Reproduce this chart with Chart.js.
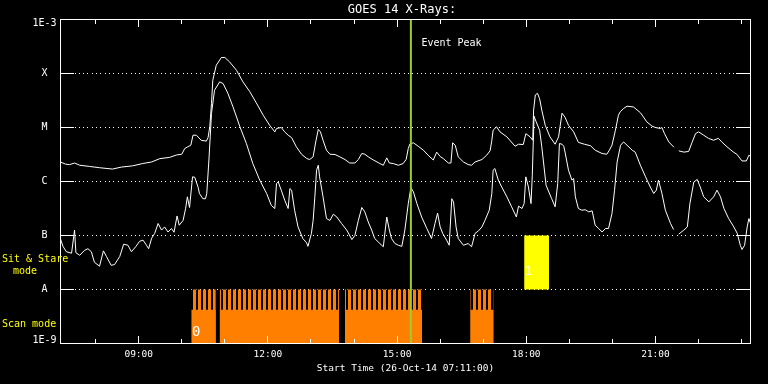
<!DOCTYPE html>
<html>
<head>
<meta charset="utf-8">
<script src="https://cdn.jsdelivr.net/npm/chart.js@4/dist/chart.umd.min.js"></script>
<style>
  html, body { margin: 0; padding: 0; background: #000; }
  canvas { display: block; }
</style>
</head>
<body>
<canvas id="c" width="768" height="384"></canvas>
<script>
// ---------- data (time in decimal hours of 26-Oct-2014, flux in W/m^2) ----------
const chartTitle = 'GOES 14 X-Rays:';
const xTitle = 'Start Time (26-Oct-14 07:11:00)';
const xMin = 7.1833, xMax = 23.207;
const hourTicks  = [8, 9, 10, 11, 12, 13, 14, 15, 16, 17, 18, 19, 20, 21, 22, 23];
const hourLabels = ['', '09:00', '', '', '12:00', '', '', '15:00', '', '', '18:00', '', '', '21:00', '', ''];
const yTickValues = [1e-9, 1e-8, 1e-7, 1e-6, 1e-5, 1e-4, 1e-3];
const yTickLabels = ['1E-9', 'A', 'B', 'C', 'M', 'X', '1E-3'];

// 1-8 Angstrom (long) channel
const longTime = [7.18,7.30,7.39,7.51,7.63,7.86,8.09,8.39,8.60,8.86,
  9.09,9.30,9.49,9.72,9.88,10.00,10.07,10.14,10.21,10.26,
  10.34,10.45,10.57,10.61,10.65,10.69,10.72,10.80,10.92,11.00,
  11.11,11.27,11.42,11.58,11.73,11.89,12.04,12.16,12.20,12.31,
  12.39,12.47,12.55,12.66,12.78,12.90,12.97,13.05,13.11,13.17,
  13.22,13.28,13.36,13.44,13.56,13.67,13.79,13.90,14.02,14.10,
  14.18,14.25,14.33,14.45,14.60,14.68,14.76,14.82,14.91,15.03,
  15.14,15.21,15.26,15.30,15.38,15.49,15.61,15.72,15.84,15.92,
  16.00,16.07,16.19,16.25,16.29,16.35,16.42,16.54,16.65,16.73,
  16.81,16.97,17.08,17.16,17.20,17.23,17.31,17.39,17.55,17.74,
  17.82,17.93,17.99,18.09,18.15,18.17,18.21,18.26,18.31,18.36,
  18.44,18.55,18.67,18.75,18.83,18.90,18.98,19.10,19.21,19.35,
  19.49,19.60,19.76,19.87,19.93,19.99,20.07,20.14,20.18,20.26,
  20.34,20.49,20.65,20.80,20.92,21.00,21.11,21.15,21.21,21.31,
  21.43,21.48,21.54,21.66,21.77,21.85,21.93,22.00,22.12,22.23,
  22.35,22.46,22.54,22.66,22.81,22.89,23.01,23.11,23.17,23.21];
const longFlux = [2.3e-6,2.1e-6,2.05e-6,2.2e-6,2.0e-6,1.9e-6,1.8e-6,1.7e-6,1.85e-6,1.95e-6,
  2.15e-6,2.3e-6,2.65e-6,2.8e-6,3.1e-6,3.2e-6,4.1e-6,4.4e-6,4.7e-6,7.2e-6,
  7.2e-6,5.8e-6,5.6e-6,6.5e-6,1.03e-5,2.8e-5,7.5e-5,1.42e-4,1.98e-4,1.98e-4,
  1.64e-4,1.15e-4,7.0e-5,4.6e-5,2.86e-5,1.69e-5,1.1e-5,8.3e-6,9.6e-6,1.0e-5,
  8.3e-6,7.2e-6,6.5e-6,4.4e-6,3.2e-6,2.67e-6,2.55e-6,2.86e-6,5.4e-6,9.2e-6,
  8.3e-6,5.8e-6,3.8e-6,3.2e-6,3.16e-6,2.86e-6,2.55e-6,2.2e-6,2.2e-6,2.55e-6,
  3.3e-6,3.2e-6,2.86e-6,2.5e-6,2.15e-6,2.0e-6,2.74e-6,2.2e-6,2.15e-6,2.0e-6,
  2.15e-6,2.55e-6,4.1e-6,5.0e-6,5.2e-6,4.5e-6,3.8e-6,3.07e-6,2.5e-6,3.5e-6,
  2.9e-6,2.67e-6,2.2e-6,2.2e-6,5.2e-6,4.7e-6,2.86e-6,2.3e-6,2.06e-6,2.0e-6,
  2.3e-6,2.55e-6,3.07e-6,3.7e-6,5.8e-6,8.9e-6,1.03e-5,8.3e-6,6.7e-6,4.5e-6,
  4.9e-6,4.84e-6,7.7e-6,6.7e-6,5.8e-6,2.1e-5,4.0e-5,4.3e-5,3.4e-5,2.1e-5,
  1.1e-5,6.7e-6,4.9e-6,6.7e-6,1.84e-5,1.55e-5,1.1e-5,8.3e-6,5.3e-6,4.9e-6,
  4.6e-6,3.8e-6,3.3e-6,3.2e-6,3.8e-6,4.7e-6,8.9e-6,1.69e-5,1.95e-5,2.25e-5,
  2.48e-5,2.4e-5,1.88e-5,1.27e-5,1.06e-5,1.0e-5,9.6e-6,1.0e-5,7.7e-6,5.4e-6,
  4.3e-6,null,3.7e-6,3.5e-6,3.6e-6,5.3e-6,7.7e-6,8.3e-6,7.2e-6,6.3e-6,
  5.8e-6,6.3e-6,5.4e-6,4.4e-6,3.5e-6,3.2e-6,2.4e-6,2.4e-6,3.07e-6,2.9e-6];

// 0.5-4 Angstrom (short) channel
const shortTime = [7.18,7.24,7.32,7.44,7.51,7.54,7.63,7.74,7.82,7.90,
  7.97,8.09,8.18,8.25,8.36,8.44,8.56,8.65,8.75,8.83,
  8.93,9.02,9.10,9.18,9.23,9.30,9.37,9.45,9.53,9.60,
  9.68,9.76,9.82,9.89,9.94,10.03,10.09,10.13,10.18,10.25,
  10.30,10.38,10.41,10.49,10.55,10.58,10.63,10.69,10.76,10.88,
  10.96,11.07,11.19,11.35,11.50,11.65,11.81,11.97,12.08,12.16,
  12.20,12.24,12.31,12.39,12.47,12.51,12.55,12.62,12.70,12.81,
  12.90,12.93,13.01,13.05,13.09,13.13,13.17,13.20,13.28,13.36,
  13.44,13.52,13.60,13.71,13.83,13.95,14.02,14.10,14.18,14.25,
  14.33,14.41,14.48,14.60,14.68,14.76,14.82,14.87,14.95,15.03,
  15.11,15.18,15.26,15.32,15.38,15.46,15.57,15.69,15.80,15.88,
  15.94,16.00,16.06,16.15,16.21,16.27,16.31,16.37,16.42,16.54,
  16.65,16.73,16.81,16.89,16.97,17.04,17.14,17.20,17.23,17.27,
  17.35,17.43,17.55,17.66,17.77,17.82,17.90,17.95,17.99,18.05,
  18.11,18.14,18.18,18.23,18.31,18.36,18.46,18.59,18.67,18.73,
  18.77,18.83,18.87,18.90,18.98,19.06,19.10,19.14,19.21,19.29,
  19.37,19.45,19.53,19.56,19.60,19.68,19.76,19.84,19.91,19.99,
  20.05,20.11,20.19,20.26,20.34,20.46,20.53,20.65,20.77,20.88,
  20.96,21.02,21.07,21.15,21.23,21.35,21.42,21.48,21.54,21.66,
  21.74,21.80,21.89,21.97,22.04,22.12,22.24,22.35,22.43,22.51,
  22.59,22.70,22.82,22.90,22.97,23.01,23.07,23.13,23.17,23.21];
const shortFlux = [8.8e-8,6.3e-8,5.0e-8,4.7e-8,1.26e-7,4.8e-8,4.3e-8,5.3e-8,5.7e-8,5.0e-8,
  3.2e-8,2.7e-8,5.2e-8,4.1e-8,2.8e-8,2.9e-8,4.1e-8,6.9e-8,6.6e-8,5.0e-8,
  6.2e-8,7.8e-8,8.2e-8,6.6e-8,5.7e-8,8.9e-8,1.09e-7,1.67e-7,1.26e-7,1.44e-7,
  1.16e-7,1.35e-7,1.15e-7,2.3e-7,1.55e-7,1.9e-7,3.2e-7,5.2e-7,3.3e-7,1.22e-6,
  1.2e-6,7.8e-7,6.0e-7,4.8e-7,4.8e-7,6.0e-7,2.5e-6,1.82e-5,4.9e-5,7.0e-5,
  6.5e-5,4.3e-5,2.4e-5,1.03e-5,5.05e-6,2.15e-6,1.06e-6,6.0e-7,3.6e-7,3.16e-7,
  9.2e-7,9.8e-7,6.9e-7,4.5e-7,3.16e-7,7.4e-7,6.9e-7,2.94e-7,1.44e-7,8.8e-8,
  7.3e-8,6.3e-8,1.09e-7,1.9e-7,5.2e-7,1.62e-6,2.0e-6,1.22e-6,5.2e-7,2.06e-7,
  1.9e-7,2.48e-7,2.2e-7,1.67e-7,1.26e-7,8.4e-8,1.0e-7,1.9e-7,3.3e-7,2.74e-7,
  1.78e-7,1.26e-7,8.8e-8,7.1e-8,6.2e-8,2.2e-7,1.26e-7,8.8e-8,7.1e-8,6.6e-8,
  6.3e-8,1.26e-7,3.9e-7,7.7e-7,6.4e-7,3.9e-7,2.2e-7,1.35e-7,8.8e-8,1.67e-7,
  2.6e-7,1.44e-7,1.09e-7,8.2e-8,6.6e-8,4.8e-7,4.2e-7,1.44e-7,8.8e-8,6.6e-8,
  7.1e-8,6.2e-8,1.09e-7,1.22e-7,1.44e-7,1.9e-7,2.94e-7,6.0e-7,1.62e-6,1.74e-6,
  1.06e-6,7.9e-7,5.2e-7,3.4e-7,2.2e-7,3.5e-7,3.16e-7,3.9e-7,1.22e-6,7.9e-7,
  3.9e-7,1.31e-6,1.62e-5,1.27e-5,8.9e-6,4.4e-6,8.5e-7,4.8e-7,3.4e-7,9.2e-7,
  5.05e-6,4.9e-6,4.5e-6,3.5e-6,1.62e-6,1.06e-6,1.14e-6,5.2e-7,3.16e-7,2.94e-7,
  3.0e-7,2.74e-7,2.86e-7,2.2e-7,1.55e-7,1.35e-7,1.16e-7,1.35e-7,1.35e-7,2.55e-7,
  6.9e-7,2.3e-6,4.7e-6,5.4e-6,4.7e-6,3.8e-6,3.5e-6,2.0e-6,1.22e-6,7.9e-7,
  6.0e-7,6.9e-7,1.06e-6,6.0e-7,2.94e-7,1.67e-7,1.29e-7,null,1.06e-7,1.26e-7,
  1.44e-7,3.9e-7,9.8e-7,1.09e-6,7.9e-7,5.2e-7,4.2e-7,5.2e-7,6.9e-7,5.2e-7,
  3.16e-7,2.06e-7,1.44e-7,1.09e-7,6.6e-8,5.5e-8,6.6e-8,1.44e-7,2.06e-7,1.67e-7];

// observing modes
const scanStart = [10.22, 10.88, 13.79, 16.70];
const scanEnd   = [10.79, 13.65, 15.58, 17.24];
const scanTop = 1e-8, scanBase = 4.2e-9, scanBottom = 1e-9;
const sitStart = [17.95];
const sitEnd   = [18.53];
const sitTop = 1e-7, sitBottom = 1e-8;
const eventPeak = 15.32;

// ---------- styles ----------
const WHITE = '#ffffff', ORANGE = '#ff8000', YELLOW = '#ffff00', GREEN = '#9acd32';
const MONO = 'DejaVu Sans Mono';

const canvas = document.getElementById('c');
const ctx = canvas.getContext('2d');

// vertical stripe pattern for the scan-mode comb
const pc = document.createElement('canvas');
pc.width = 5; pc.height = 1;
const pctx = pc.getContext('2d');
pctx.fillStyle = ORANGE; pctx.fillRect(0, 0, 5, 1);
pctx.fillStyle = '#000'; pctx.fillRect(1, 0, 2, 1);
const stripes = ctx.createPattern(pc, 'repeat');

const toXY = (t, v) => t.map((x, i) => ({ x: x, y: v[i] }));
function blocks(starts, ends, level) {
  const out = [];
  starts.forEach((s, i) => {
    out.push({ x: s, y: level }, { x: ends[i], y: level }, { x: ends[i], y: null });
  });
  return out;
}
// edge labels of the y axis sit just inside the frame
function yLabel(i) {
  if (i === 0) return [yTickLabels[i], ''];
  if (i === yTickLabels.length - 1) return ['', yTickLabels[i]];
  return yTickLabels[i];
}

const bgPlugin = {
  id: 'bg',
  beforeDraw(c) {
    const g = c.ctx; g.save(); g.fillStyle = '#000'; g.fillRect(0, 0, c.width, c.height); g.restore();
  }
};

const deco = {
  id: 'deco',
  beforeDatasetsDraw(c) {
    const g = c.ctx, a = c.chartArea, y = c.scales.y;
    g.save();
    g.fillStyle = WHITE;
    yTickValues.slice(1, -1).forEach(v => {
      const py = Math.floor(y.getPixelForValue(v));
      for (let px = a.left + 14; px < a.right - 14; px += 4.333) g.fillRect(Math.round(px), py, 1, 1);
    });
    g.restore();
  },
  afterDatasetsDraw(c) {
    const g = c.ctx, a = c.chartArea, x = c.scales.x, y = c.scales.y;
    g.save();
    g.strokeStyle = WHITE; g.lineWidth = 1;
    g.strokeRect(a.left, a.top, a.right - a.left, a.bottom - a.top);
    g.fillStyle = WHITE;
    yTickValues.slice(1, -1).forEach(v => {
      const py = Math.floor(y.getPixelForValue(v));
      g.fillRect(Math.floor(a.left), py, 14, 1);
      g.fillRect(Math.floor(a.right) - 14, py, 14, 1);
    });
    hourTicks.forEach((h, i) => {
      const px = Math.floor(x.getPixelForValue(h));
      const len = hourLabels[i] ? 7 : 4;
      g.fillRect(px, Math.floor(a.bottom) - len, 1, len);
      g.fillRect(px, Math.floor(a.top), 1, len + 1);
    });
    g.restore();
  },
  afterDraw(c) {
    const g = c.ctx, a = c.chartArea, x = c.scales.x, y = c.scales.y;
    g.save();
    g.textBaseline = 'middle';
    g.fillStyle = WHITE;
    g.font = '12px "' + MONO + '"';
    g.textAlign = 'center';
    g.fillText(chartTitle, 402, 10);
    g.font = '10px "' + MONO + '"';
    g.textAlign = 'left';
    g.fillText('Event Peak', x.getPixelForValue(eventPeak) + 10.5, 43);
    g.font = '14px "' + MONO + '"';
    g.textAlign = 'center';
    g.fillText('0', x.getPixelForValue(scanStart[0]) + 5, 332);
    g.font = '13px "' + MONO + '"';
    g.fillText('1', x.getPixelForValue(sitStart[0]) + 4.5, 272);
    g.fillStyle = YELLOW;
    g.font = '10px "' + MONO + '"';
    g.textAlign = 'left';
    const ySit = y.getPixelForValue(Math.sqrt(sitTop * sitBottom));
    g.fillText('Sit & Stare', 2, ySit - 3);
    g.fillText('mode', 13, ySit + 9);
    g.fillText('Scan mode', 2, y.getPixelForValue(scanBottom) - 19);
    g.restore();
  }
};

new Chart(ctx, {
  type: 'line',
  data: {
    datasets: [
      { label: 'Event Peak', data: [{ x: eventPeak, y: 1e-9 }, { x: eventPeak, y: 1e-3 }],
        borderColor: GREEN, borderWidth: 2, pointRadius: 0, fill: false },
      { label: '1-8 A', data: toXY(longTime, longFlux), borderColor: WHITE, borderWidth: 1,
        pointRadius: 0, fill: false, spanGaps: false, tension: 0 },
      { label: '0.5-4 A', data: toXY(shortTime, shortFlux), borderColor: WHITE, borderWidth: 1,
        pointRadius: 0, fill: false, spanGaps: false, tension: 0 },
      { label: 'Sit & Stare mode', data: blocks(sitStart, sitEnd, sitTop), borderColor: 'rgba(0,0,0,0)',
        borderWidth: 0, pointRadius: 0, backgroundColor: YELLOW, fill: { value: sitBottom }, spanGaps: false },
      { label: 'Scan mode base', data: blocks(scanStart, scanEnd, scanBase), borderColor: 'rgba(0,0,0,0)',
        borderWidth: 0, pointRadius: 0, backgroundColor: ORANGE, fill: 'start', spanGaps: false },
      { label: 'Scan mode', data: blocks(scanStart, scanEnd, scanTop), borderColor: 'rgba(0,0,0,0)',
        borderWidth: 0, pointRadius: 0, backgroundColor: stripes, fill: 'start', spanGaps: false }
    ]
  },
  options: {
    responsive: false,
    animation: false,
    devicePixelRatio: 1,
    layout: { padding: { left: 0, right: 17.5, top: 19.5, bottom: 0 } },
    plugins: { legend: { display: false }, tooltip: { enabled: false }, title: { display: false } },
    scales: {
      x: {
        type: 'linear', min: xMin, max: xMax,
        grid: { display: false, drawTicks: false }, border: { display: false },
        afterBuildTicks: s => { s.ticks = hourTicks.map(v => ({ value: v })); },
        afterFit: s => { s.height = 40.5; },
        ticks: { color: WHITE, font: { family: MONO, size: 9.5 }, padding: 5, autoSkip: false, maxRotation: 0,
          callback: (v, i) => hourLabels[i] },
        title: { display: true, text: xTitle, color: WHITE, font: { family: MONO, size: 9.5 },
          padding: { top: 0, bottom: 10 } }
      },
      y: {
        type: 'logarithmic', min: 1e-9, max: 1e-3,
        grid: { display: false, drawTicks: false }, border: { display: false },
        afterBuildTicks: s => { s.ticks = yTickValues.map(v => ({ value: v })); },
        afterFit: s => { s.width = 60.5; },
        ticks: { color: WHITE, font: { family: MONO, size: 10, lineHeight: 0.7 }, padding: 4, crossAlign: 'center',
          autoSkip: false, callback: (v, i) => yLabel(i) }
      }
    }
  },
  plugins: [bgPlugin, deco]
});
</script>
</body>
</html>
